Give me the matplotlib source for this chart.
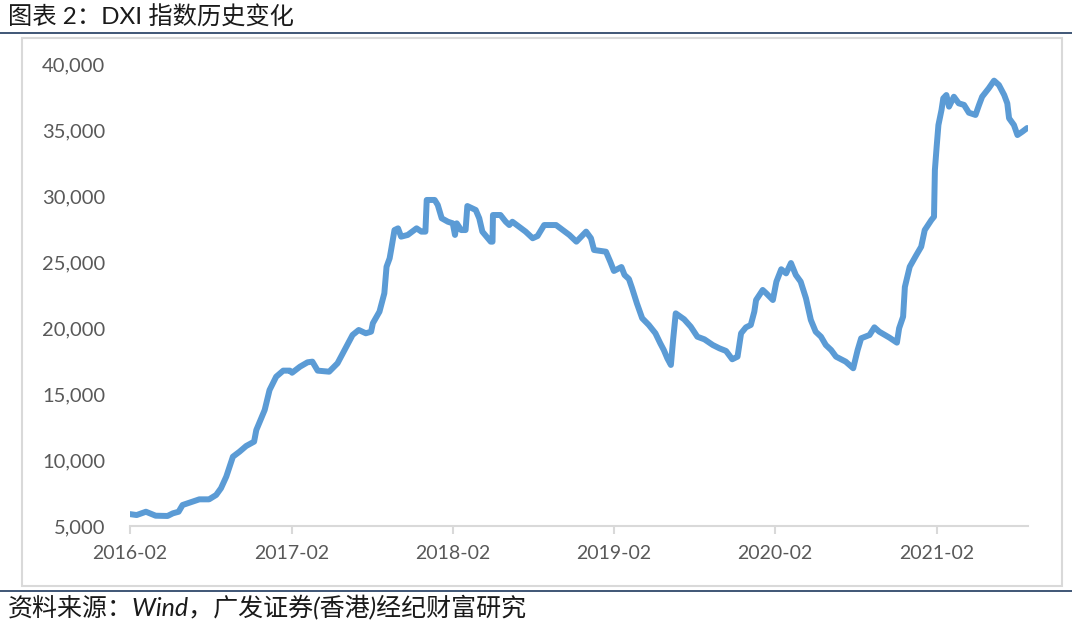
"""DXI 指数历史变化 - line chart recreation"""

import matplotlib
matplotlib.use("Agg")
import matplotlib.pyplot as plt
import matplotlib.dates as mdates
from matplotlib.lines import Line2D
from matplotlib.patches import Rectangle
import pandas as pd

# Values
dates = [
    "2016-02-01", "2016-02-16", "2016-03-08", "2016-03-30", "2016-04-26",
    "2016-05-08", "2016-05-21", "2016-05-30", "2016-06-15", "2016-07-07",
    "2016-07-29", "2016-08-14", "2016-08-25", "2016-09-06", "2016-09-21",
    "2016-10-06", "2016-10-21", "2016-11-08", "2016-11-13", "2016-12-02",
    "2016-12-13", "2016-12-28", "2017-01-13", "2017-01-28", "2017-02-02",
    "2017-02-20", "2017-03-09", "2017-03-20", "2017-04-01", "2017-04-27",
    "2017-05-16", "2017-06-05", "2017-06-19", "2017-07-03", "2017-07-19",
    "2017-07-31", "2017-08-04", "2017-08-19", "2017-08-30", "2017-09-04",
    "2017-09-11", "2017-09-15", "2017-09-22", "2017-09-30", "2017-10-07",
    "2017-10-22", "2017-11-11", "2017-11-22", "2017-12-01", "2017-12-04",
    "2017-12-22", "2017-12-29", "2018-01-07", "2018-01-21", "2018-02-01",
    "2018-02-06", "2018-02-10", "2018-02-20", "2018-03-02", "2018-03-06",
    "2018-03-25", "2018-04-02", "2018-04-09", "2018-04-28", "2018-05-02",
    "2018-05-03", "2018-05-20", "2018-06-01", "2018-06-09", "2018-06-16",
    "2018-07-01", "2018-07-16", "2018-08-01", "2018-08-12", "2018-08-27",
    "2018-09-23", "2018-10-08", "2018-10-23", "2018-11-08", "2018-11-30",
    "2018-12-11", "2018-12-18", "2019-01-14", "2019-01-24", "2019-02-01",
    "2019-02-18", "2019-02-25", "2019-03-07", "2019-03-14", "2019-03-25",
    "2019-04-06", "2019-04-21", "2019-05-06", "2019-05-17", "2019-05-25",
    "2019-06-02", "2019-06-10", "2019-06-15", "2019-06-21", "2019-07-10",
    "2019-07-25", "2019-08-09", "2019-08-25", "2019-09-13", "2019-09-28",
    "2019-10-13", "2019-10-27", "2019-11-08", "2019-11-16", "2019-11-27",
    "2019-12-08", "2019-12-16", "2019-12-20", "2020-01-04", "2020-01-12",
    "2020-01-27", "2020-02-04", "2020-02-15", "2020-02-26", "2020-03-08",
    "2020-03-19", "2020-03-30", "2020-04-11", "2020-04-22", "2020-05-03",
    "2020-05-15", "2020-05-26", "2020-06-07", "2020-06-18", "2020-07-10",
    "2020-07-27", "2020-08-06", "2020-08-14", "2020-09-02", "2020-09-13",
    "2020-09-24", "2020-10-17", "2020-11-03", "2020-11-08", "2020-11-17",
    "2020-11-21", "2020-12-02", "2020-12-17", "2020-12-28", "2021-01-05",
    "2021-01-20", "2021-01-26", "2021-01-28", "2021-02-01", "2021-02-05",
    "2021-02-12", "2021-02-16", "2021-02-23", "2021-03-01", "2021-03-12",
    "2021-03-23", "2021-04-04", "2021-04-15", "2021-04-30", "2021-05-08",
    "2021-05-15", "2021-05-30", "2021-06-11", "2021-06-22", "2021-07-04",
    "2021-07-11", "2021-07-15", "2021-07-26", "2021-08-03", "2021-08-14",
    "2021-08-25",
]
dxi = [
    5900, 5830, 6080, 5780, 5760, 5960, 6080, 6590, 6770, 7020,
    7020, 7350, 7860, 8740, 10250, 10630, 11060, 11390, 12270, 13790,
    15300, 16310, 16770, 16770, 16610, 17070, 17400, 17450, 16770, 16690,
    17330, 18580, 19470, 19850, 19600, 19720, 20360, 21240, 22630, 24640,
    25280, 26040, 27420, 27550, 26920, 27050, 27550, 27300, 27300, 29700,
    29700, 29320, 28310, 28050, 27930, 27050, 27930, 27420, 27420, 29240,
    28940, 28310, 27300, 26540, 26540, 28560, 28560, 28050, 27800, 28050,
    27670, 27300, 26800, 26970, 27800, 27800, 27420, 27050, 26540, 27300,
    26800, 25910, 25780, 25000, 24320, 24620, 24020, 23710, 23030, 21870,
    20740, 20230, 19600, 18840, 18330, 17700, 17200, 19090, 21110, 20660,
    20100, 19340, 19140, 18710, 18460, 18260, 17630, 17830, 19600, 20050,
    20230, 21240, 22120, 22880, 22630, 22120, 23510, 24450, 24140, 24920,
    24020, 23510, 22250, 20610, 19720, 19340, 18710, 18330, 17830, 17450,
    16950, 18330, 19220, 19470, 20050, 19720, 19270, 18890, 19980, 20860,
    23110, 24640, 25530, 26160, 27420, 28180, 28430, 31970, 33740, 35380,
    36520, 37400, 37650, 36770, 37520, 37020, 36900, 36310, 36140, 36900,
    37520, 38160, 38740, 38410, 37650, 37020, 35890, 35380, 34620, 34870,
    35150,
]
y_ticks = [5000, 10000, 15000, 20000, 25000, 30000, 35000, 40000]
x_ticks = ["2016-02-01", "2017-02-01", "2018-02-01", "2019-02-01",
           "2020-02-01", "2021-02-01"]

title = "图表 2：DXI 指数历史变化"
source = "资料来源：Wind，广发证券(香港)经纪财富研究"

plt.rcParams["font.family"] = ["Lato", "Noto Sans CJK SC", "DejaVu Sans"]

LINE_BLUE = "#5b9bd5"
DARK_BLUE = "#1f3a5f"
GRAY = "#d9d9d9"
TEXT_GRAY = "#595959"

fig = plt.figure(figsize=(10.72, 6.25), dpi=100)

# outer chart frame
fig.add_artist(Rectangle((0.0205, 0.0624), 0.970, 0.8768, transform=fig.transFigure,
                         fill=False, edgecolor=GRAY, linewidth=1.5))
# header / footer rules
fig.add_artist(Line2D([0, 1], [0.9472, 0.9472], color=DARK_BLUE, linewidth=1.2))
fig.add_artist(Line2D([0, 1], [0.0544, 0.0544], color=DARK_BLUE, linewidth=1.2))

fig.text(0.007, 0.972, title, fontsize=17.5, color="#1a1a1a", va="center", ha="left")
fig.text(0.007, 0.027, source, fontsize=18, color="#1a1a1a", va="center", ha="left",
         style="italic")

ax = fig.add_axes([0.1213, 0.1584, 0.8377, 0.7392])
x = pd.to_datetime(dates)
ax.plot(x, dxi, color=LINE_BLUE, linewidth=4.3, solid_joinstyle="round",
        solid_capstyle="round")

ax.set_ylim(5000, 40000)
ax.set_yticks(y_ticks)
ax.yaxis.set_major_formatter(matplotlib.ticker.FuncFormatter(lambda v, _: f"{int(v):,}"))
ax.set_xlim(pd.Timestamp("2016-02-01"), pd.Timestamp("2021-08-27"))
ax.set_xticks(pd.to_datetime(x_ticks))
ax.xaxis.set_major_formatter(mdates.DateFormatter("%Y-%m"))

for side in ("top", "right", "left"):
    ax.spines[side].set_visible(False)
ax.spines["bottom"].set_color(GRAY)
ax.spines["bottom"].set_linewidth(1.5)
ax.tick_params(axis="x", colors=GRAY, length=6, width=1.5, labelcolor=TEXT_GRAY,
               labelsize=14, pad=8)
ax.tick_params(axis="y", length=0, labelcolor=TEXT_GRAY, labelsize=14.5, pad=18)

fig.savefig("out.png", dpi=100)
